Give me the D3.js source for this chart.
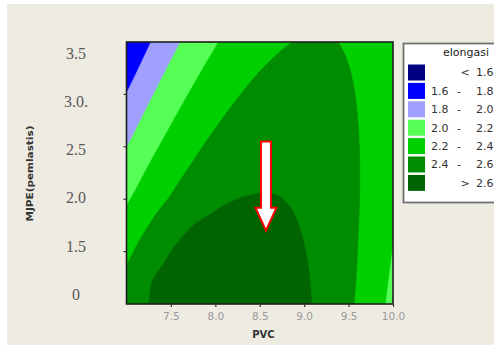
<!DOCTYPE html>
<html>
<head>
<meta charset="utf-8">
<script src="https://cdn.jsdelivr.net/npm/d3@7"></script>
<style>
  html, body { margin: 0; padding: 0; background: #ffffff; }
  svg { display: block; }
</style>
</head>
<body>
<svg id="chart" width="494" height="347"></svg>
<script>
// Response surface of elongasi over PVC and MJPE (pemlastis)
const pvcGrid  = [7.0, 7.25, 7.5, 7.75, 8.0, 8.25, 8.5, 8.75, 9.0, 9.25, 9.5, 9.75, 10.0];
const mjpeGrid = [1.0, 1.25, 1.5, 1.75, 2.0, 2.25, 2.5, 2.75, 3.0, 3.25, 3.5];

// elongasi values, one row per MJPE level (bottom to top), one column per PVC level
const elongasi = [
  [2.508, 2.601, 2.672, 2.721, 2.747, 2.751, 2.732, 2.690, 2.627, 2.540, 2.431, 2.300, 2.146],
  [2.440, 2.580, 2.640, 2.682, 2.703, 2.715, 2.705, 2.672, 2.617, 2.539, 2.439, 2.316, 2.170],
  [2.352, 2.500, 2.600, 2.648, 2.670, 2.677, 2.675, 2.651, 2.604, 2.535, 2.443, 2.329, 2.192],
  [2.264, 2.400, 2.525, 2.600, 2.630, 2.645, 2.643, 2.627, 2.589, 2.529, 2.445, 2.340, 2.212],
  [2.178, 2.306, 2.415, 2.510, 2.572, 2.600, 2.608, 2.601, 2.571, 2.519, 2.445, 2.348, 2.228],
  [2.088, 2.225, 2.339, 2.431, 2.500, 2.546, 2.570, 2.572, 2.551, 2.508, 2.442, 2.353, 2.242],
  [1.997, 2.142, 2.264, 2.365, 2.442, 2.497, 2.530, 2.540, 2.528, 2.493, 2.436, 2.356, 2.254],
  [1.902, 2.056, 2.187, 2.296, 2.382, 2.446, 2.487, 2.506, 2.502, 2.476, 2.427, 2.356, 2.262],
  [1.805, 1.967, 2.107, 2.225, 2.319, 2.392, 2.442, 2.469, 2.474, 2.456, 2.416, 2.354, 2.268],
  [1.705, 1.876, 2.025, 2.151, 2.254, 2.335, 2.394, 2.429, 2.443, 2.434, 2.402, 2.348, 2.272],
  [1.603, 1.783, 1.940, 2.074, 2.186, 2.276, 2.343, 2.387, 2.409, 2.409, 2.386, 2.340, 2.272]
];

const levels      = [1.6, 1.8, 2.0, 2.2, 2.4, 2.6];
const levelColors = ["#000080", "#0000ff", "#a0a0ff", "#55ff55", "#00d000", "#008c00", "#006400"];

const xTickValues = [7.5, 8.0, 8.5, 9.0, 9.5, 10.0];
const xTickLabels = ["7.5", "8.0", "8.5", "9.0", "9.5", "10.0"];
const yTickValues = [1.0, 1.5, 2.0, 2.5, 3.0, 3.5];
const yTickLabels = ["0", "1.5", "2.0", "2.5", "3.0.", "3.5"];

const legendTitle = "elongasi";
const xTitle = "PVC";
const yTitle = "MJPE(pemlastis)";

// marker pointing at the optimum region
const arrowPvc = 8.57, arrowFrom = 2.55, arrowTo = 1.70;

// ---------------------------------------------------------------
const svg = d3.select("#chart");
const plot = { left: 126.5, right: 393, top: 42, bottom: 304 };

const x = d3.scaleLinear().domain([7.0, 10.0]).range([plot.left, plot.right]);
const y = d3.scaleLinear().domain([1.0, 3.5]).range([plot.bottom, plot.top]);
// tick labels sit on their own, slightly compressed placement
const yLabelPos = d3.scaleLinear().domain([1.0, 3.5]).range([294, 53]);

// page panel
svg.append("rect").attr("x", 7).attr("y", 4).attr("width", 487).attr("height", 341)
  .attr("fill", "#eeebe2");

// smooth the gridded surface (Catmull-Rom bicubic) for contouring
const nx = pvcGrid.length, ny = mjpeGrid.length;
function g(i, j) {
  if (i < 0) return 2 * g(0, j) - g(1, j);
  if (i > nx - 1) return 2 * g(nx - 1, j) - g(nx - 2, j);
  if (j < 0) return 2 * g(i, 0) - g(i, 1);
  if (j > ny - 1) return 2 * g(i, ny - 1) - g(i, ny - 2);
  return elongasi[j][i];
}
function cr(p0, p1, p2, p3, t) {
  return 0.5 * (2 * p1 + (-p0 + p2) * t + (2 * p0 - 5 * p1 + 4 * p2 - p3) * t * t +
    (-p0 + 3 * p1 - 3 * p2 + p3) * t * t * t);
}
function surface(gx, gy) {
  let i = Math.min(Math.floor(gx), nx - 2), j = Math.min(Math.floor(gy), ny - 2);
  const tx = gx - i, ty = gy - j;
  const rows = [];
  for (let m = -1; m <= 2; m++) {
    rows.push(cr(g(i - 1, j + m), g(i, j + m), g(i + 1, j + m), g(i + 2, j + m), tx));
  }
  return cr(rows[0], rows[1], rows[2], rows[3], ty);
}

const K = 16;
const N = (nx - 1) * K + 1, M = (ny - 1) * K + 1;
const fine = new Array(N * M);
for (let r = 0; r < M; r++) {
  const gy = (ny - 1) - r / K;          // row 0 is the top (highest MJPE)
  for (let c = 0; c < N; c++) {
    fine[r * N + c] = surface(c / K, gy);
  }
}

const cx = d3.scaleLinear().domain([0.5, N - 0.5]).range([x(pvcGrid[0]), x(pvcGrid[nx - 1])]);
const cy = d3.scaleLinear().domain([0.5, M - 0.5]).range([y(mjpeGrid[ny - 1]), y(mjpeGrid[0])]);
const proj = d3.geoTransform({ point(px, py) { this.stream.point(cx(px), cy(py)); } });
const path = d3.geoPath(proj);

svg.append("clipPath").attr("id", "plotClip")
  .append("rect").attr("x", plot.left).attr("y", plot.top)
  .attr("width", plot.right - plot.left).attr("height", plot.bottom - plot.top);

const bands = d3.contours().size([N, M]).thresholds(levels)(fine);
const gPlot = svg.append("g").attr("clip-path", "url(#plotClip)");
gPlot.append("rect").attr("x", plot.left).attr("y", plot.top)
  .attr("width", plot.right - plot.left).attr("height", plot.bottom - plot.top)
  .attr("fill", levelColors[0]);
gPlot.selectAll("path.band").data(bands).join("path")
  .attr("class", "band")
  .attr("d", path)
  .attr("fill", (d, i) => levelColors[i + 1])
  .attr("stroke", (d, i) => levelColors[i + 1])
  .attr("stroke-width", 0.6);

// frame
svg.append("rect").attr("x", plot.left).attr("y", plot.top)
  .attr("width", plot.right - plot.left).attr("height", plot.bottom - plot.top)
  .attr("fill", "none").attr("stroke", "#1e1e1e").attr("stroke-width", 1.6);

// x axis
const xAxis = d3.axisBottom(x).tickValues(xTickValues)
  .tickFormat((d, i) => xTickLabels[i]).tickSize(3).tickPadding(6);
const gx = svg.append("g").attr("transform", `translate(0,${plot.bottom})`).call(xAxis);
gx.select(".domain").remove();
gx.selectAll(".tick line").attr("stroke", "#333").attr("stroke-width", 1.2);
gx.selectAll(".tick text").attr("fill", "#9a9a9a")
  .attr("font-family", "DejaVu Sans, sans-serif").attr("font-size", 10.5);

// y axis: tick marks on the frame, labels placed alongside
const gy = svg.append("g").attr("transform", `translate(${plot.left},0)`);
gy.selectAll("line").data(yTickValues.filter(v => v > 1.0 && v < 3.5)).join("line")
  .attr("x1", -3).attr("x2", 0).attr("y1", d => y(d)).attr("y2", d => y(d))
  .attr("stroke", "#333").attr("stroke-width", 1.2);
svg.append("g").selectAll("text").data(yTickValues).join("text")
  .attr("x", 76).attr("y", d => yLabelPos(d)).attr("dy", "0.36em")
  .attr("text-anchor", "middle")
  .attr("font-family", "Liberation Serif, serif").attr("font-size", 16)
  .attr("fill", "#585858")
  .text((d, i) => yTickLabels[i]);

// axis titles
svg.append("text").attr("x", 263.5).attr("y", 338).attr("text-anchor", "middle")
  .attr("font-family", "DejaVu Sans, sans-serif").attr("font-weight", "bold")
  .attr("font-size", 10).attr("fill", "#333").text(xTitle);
svg.append("text").attr("transform", "translate(33,173.5) rotate(-90)")
  .attr("text-anchor", "middle")
  .attr("font-family", "DejaVu Sans, sans-serif").attr("font-weight", "bold")
  .attr("font-size", 8.5).attr("fill", "#333")
  .attr("textLength", 96).attr("lengthAdjust", "spacingAndGlyphs")
  .text(yTitle);

// arrow
const ax = x(arrowPvc), a0 = y(arrowFrom), a1 = y(arrowTo);
const shaftW = 5, headW = 10.5, headL = 23;
const arrowPts = [
  [ax - shaftW, a0], [ax + shaftW, a0], [ax + shaftW, a1 - headL], [ax + headW, a1 - headL],
  [ax, a1], [ax - headW, a1 - headL], [ax - shaftW, a1 - headL]
];
svg.append("polygon").attr("points", arrowPts.map(p => p.join(",")).join(" "))
  .attr("fill", "#ffffff").attr("stroke", "#ff0000").attr("stroke-width", 2)
  .attr("stroke-linejoin", "miter");

// legend
const lg = svg.append("g");
lg.append("rect").attr("x", 403.5).attr("y", 43.5).attr("width", 110).attr("height", 159)
  .attr("fill", "#ffffff").attr("stroke", "#707070").attr("stroke-width", 1.8);
lg.append("text").attr("x", 466).attr("y", 56).attr("text-anchor", "middle")
  .attr("font-family", "DejaVu Sans, sans-serif").attr("font-size", 11).attr("fill", "#222")
  .text(legendTitle);

const bins = levelColors.map((c, i) => ({
  color: c,
  lo: i === 0 ? null : levels[i - 1],
  hi: i === levels.length ? null : levels[i]
}));
const fmt = d3.format(".1f");
const rowY = i => 72.5 + i * 18.4;
const rows = lg.selectAll("g.row").data(bins).join("g").attr("class", "row");
rows.append("rect").attr("x", 408).attr("y", (d, i) => rowY(i) - 8)
  .attr("width", 17).attr("height", 16).attr("fill", d => d.color);
const tAttrs = sel => sel.attr("font-family", "DejaVu Sans, sans-serif")
  .attr("font-size", 11).attr("fill", "#333").attr("dy", "0.36em");
rows.filter(d => d.lo !== null && d.hi !== null).append("text")
  .attr("x", 431).attr("y", d => rowY(bins.indexOf(d)))
  .call(tAttrs).text(d => fmt(d.lo));
rows.filter(d => d.lo !== null && d.hi !== null).append("text")
  .attr("x", 459).attr("y", d => rowY(bins.indexOf(d))).attr("text-anchor", "middle")
  .call(tAttrs).text("-");
rows.filter(d => d.lo === null || d.hi === null).append("text")
  .attr("x", 465).attr("y", d => rowY(bins.indexOf(d))).attr("text-anchor", "middle")
  .call(tAttrs).text(d => d.lo === null ? "<" : ">");
rows.append("text")
  .attr("x", 476).attr("y", d => rowY(bins.indexOf(d)))
  .call(tAttrs).text(d => fmt(d.hi !== null ? d.hi : d.lo));
</script>
</body>
</html>
